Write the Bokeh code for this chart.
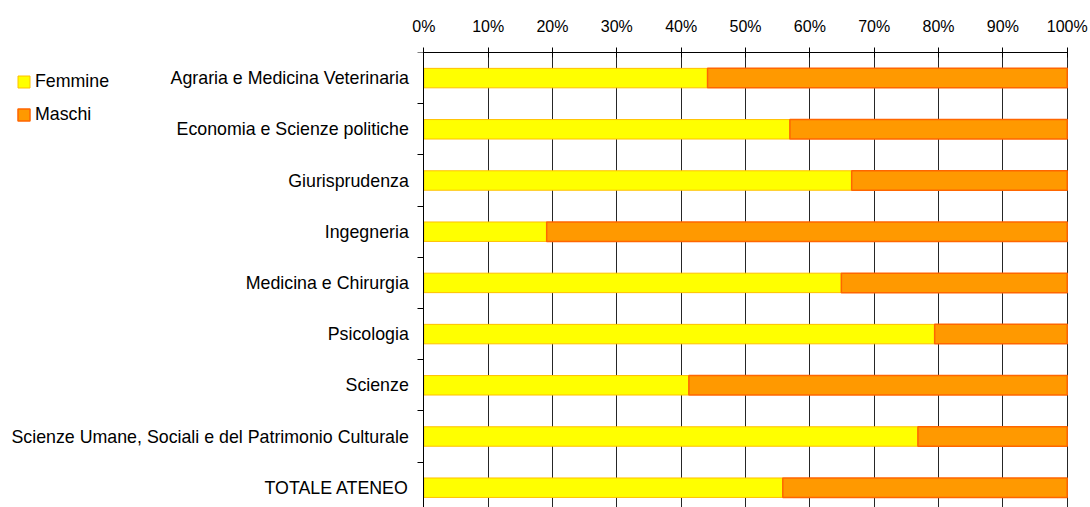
from bokeh.plotting import figure
from bokeh.models import ColumnDataSource, FixedTicker, Range1d, Legend, LegendItem
from bokeh.embed import file_html
from bokeh.resources import INLINE

categories = [
    "Agraria e Medicina Veterinaria",
    "Economia e Scienze politiche",
    "Giurisprudenza",
    "Ingegneria",
    "Medicina e Chirurgia",
    "Psicologia",
    "Scienze",
    "Scienze Umane, Sociali e del Patrimonio Culturale",
    "TOTALE ATENEO",
]
femmine = [44.1, 56.9, 66.5, 19.1, 64.9, 79.4, 41.2, 76.8, 55.8]
maschi = [100 - f for f in femmine]
x_ticks = [0, 10, 20, 30, 40, 50, 60, 70, 80, 90, 100]
x_tick_labels = ["0%", "10%", "20%", "30%", "40%", "50%", "60%", "70%", "80%", "90%", "100%"]

FONT = "Liberation Sans"
FS_Y = "17.8px"
FS_X = "16px"

ypos = list(range(len(categories)))
src = ColumnDataSource(dict(
    y=ypos,
    fend=femmine,
    mstart=femmine,
    mend=[f + m for f, m in zip(femmine, maschi)],
    zero=[0] * len(categories),
))

W, H = 1090, 507
TOP = 52
X0_PX, X100_PX = 423.3, 1066.7
pxu = (X100_PX - X0_PX) / 100.0
x_start = -X0_PX / pxu
x_end = 100 + (W - X100_PX) / pxu
cat_px = 51.2
y_bottom = -0.5 + (H - TOP) / cat_px

p = figure(
    width=W, height=H,
    x_range=Range1d(x_start, x_end),
    y_range=Range1d(start=y_bottom, end=-0.5),
    x_axis_location="above",
    output_backend="svg", toolbar_location=None,
    min_border_left=0, min_border_right=0, min_border_top=TOP, min_border_bottom=0,
)
p.outline_line_color = None
p.background_fill_color = "white"
p.border_fill_color = "white"

r_f = p.hbar(y="y", left="zero", right="fend", height=0.38, source=src,
             fill_color="#FFFF00", line_color="#FFC000", line_width=1)
r_m = p.hbar(y="y", left="mstart", right="mend", height=0.38, source=src,
             fill_color="#FF9900", line_color="#FF6600", line_width=1.5)

# x axis (top)
xa = p.xaxis[0]
xa.ticker = FixedTicker(ticks=x_ticks)
xa.bounds = (0, 100)
xa.major_label_overrides = {t: l for t, l in zip(x_ticks, x_tick_labels)}
xa.major_tick_in = 5
xa.major_tick_out = 5
xa.minor_tick_line_color = None
xa.axis_line_color = "black"
xa.major_tick_line_color = "black"
xa.major_label_text_font = FONT
xa.major_label_text_font_size = FS_X
xa.major_label_text_color = "black"
xa.major_label_standoff = 13

# y axis (drawn at x = 0)
ya = p.yaxis[0]
ya.fixed_location = 0
ya.ticker = FixedTicker(ticks=ypos, minor_ticks=[i - 0.5 for i in range(len(categories) + 1)])
ya.major_label_overrides = {i: c for i, c in enumerate(categories)}
ya.major_tick_line_color = None
ya.major_tick_in = 0
ya.major_tick_out = 0
ya.minor_tick_line_color = "black"
ya.minor_tick_in = 0
ya.minor_tick_out = 6
ya.axis_line_color = "black"
ya.major_label_text_font = FONT
ya.major_label_text_font_size = FS_Y
ya.major_label_text_color = "black"
ya.major_label_standoff = 9

p.xgrid.ticker = FixedTicker(ticks=x_ticks)
p.xgrid.grid_line_color = "black"
p.xgrid.grid_line_alpha = 0.85
p.ygrid.grid_line_color = None

legend = Legend(
    items=[LegendItem(label="Femmine", renderers=[r_f]),
           LegendItem(label="Maschi", renderers=[r_m])],
    location=(16, 382),
    orientation="vertical",
    glyph_width=15, glyph_height=15,
    label_height=20, spacing=12, padding=0, margin=0,
    label_standoff=4,
    label_text_font=FONT, label_text_font_size=FS_Y, label_text_color="black",
    border_line_color=None, background_fill_alpha=0,
)
p.add_layout(legend, "center")

open("out.html", "w").write(file_html(p, INLINE))
